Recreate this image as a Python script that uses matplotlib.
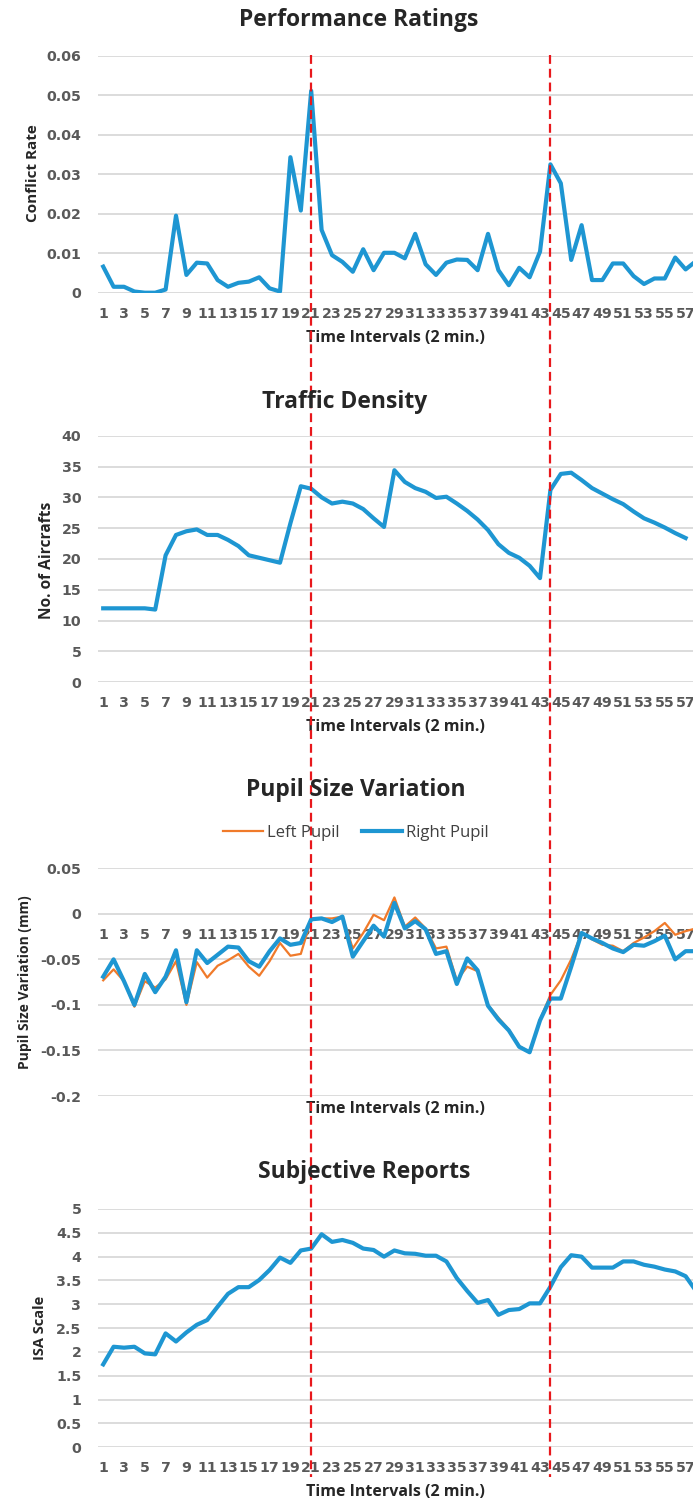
import numpy as np
import matplotlib
matplotlib.use("Agg")
import matplotlib.pyplot as plt
from matplotlib.transforms import blended_transform_factory
from matplotlib.lines import Line2D

plt.rcParams['font.family'] = ['Open Sans', 'DejaVu Sans']

# time intervals (2 min.)
conflict_rate = [0.0066, 0.0015, 0.0015, 0.0003, 0.0, 0.0, 0.0008, 0.0195, 0.0045, 0.0076,
                 0.0074, 0.0032, 0.0015, 0.0025, 0.0028, 0.0039, 0.0011, 0.0003, 0.0343, 0.0208,
                 0.0511, 0.0159, 0.0095, 0.0078, 0.0053, 0.0110, 0.0057, 0.0101, 0.0101, 0.0087,
                 0.0149, 0.0072, 0.0045, 0.0076, 0.0084, 0.0083, 0.0057, 0.0149, 0.0057, 0.0019,
                 0.0063, 0.0039, 0.0104, 0.0325, 0.0277, 0.0083, 0.0171, 0.0032, 0.0032, 0.0074,
                 0.0074, 0.0042, 0.0022, 0.0036, 0.0036, 0.0089, 0.0059, 0.0080]

aircrafts = [12.0, 12.0, 12.0, 12.0, 12.0, 11.8, 20.6, 23.9, 24.5, 24.8,
             23.9, 23.9, 23.1, 22.1, 20.6, 20.2, 19.8, 19.4, 25.8, 31.8,
             31.4, 30.0, 29.0, 29.3, 29.0, 28.1, 26.6, 25.2, 34.4, 32.5,
             31.5, 30.9, 29.9, 30.1, 29.0, 27.8, 26.4, 24.7, 22.4, 21.0,
             20.2, 18.9, 16.9, 31.2, 33.8, 34.0, 32.8, 31.5, 30.6, 29.7,
             28.9, 27.7, 26.6, 25.9, 25.1, 24.2, 23.4]

left_pupil = [-0.073, -0.061, -0.074, -0.102, -0.074, -0.081, -0.072, -0.052, -0.100, -0.053,
              -0.070, -0.057, -0.051, -0.044, -0.058, -0.068, -0.052, -0.032, -0.046, -0.044,
              -0.006, -0.005, -0.005, -0.003, -0.038, -0.021, -0.001, -0.007, 0.018, -0.014,
              -0.004, -0.016, -0.038, -0.036, -0.073, -0.058, -0.063, -0.100, -0.114, -0.127,
              -0.145, -0.152, -0.116, -0.089, -0.073, -0.050, -0.021, -0.028, -0.034, -0.035,
              -0.041, -0.032, -0.026, -0.019, -0.010, -0.023, -0.019, -0.016]

right_pupil = [-0.069, -0.050, -0.074, -0.100, -0.066, -0.086, -0.069, -0.040, -0.097, -0.040,
               -0.054, -0.045, -0.036, -0.037, -0.052, -0.058, -0.041, -0.027, -0.034, -0.032,
               -0.006, -0.005, -0.009, -0.003, -0.047, -0.030, -0.013, -0.025, 0.012, -0.016,
               -0.008, -0.017, -0.044, -0.041, -0.077, -0.049, -0.062, -0.101, -0.116, -0.128,
               -0.146, -0.152, -0.117, -0.093, -0.093, -0.058, -0.021, -0.027, -0.032, -0.038,
               -0.042, -0.034, -0.035, -0.030, -0.024, -0.050, -0.041, -0.041]

isa_scale = [1.74, 2.11, 2.09, 2.11, 1.97, 1.95, 2.39, 2.22, 2.41, 2.57,
             2.67, 2.95, 3.22, 3.36, 3.36, 3.51, 3.72, 3.98, 3.87, 4.13,
             4.17, 4.47, 4.31, 4.35, 4.29, 4.17, 4.14, 4.00, 4.13, 4.07,
             4.06, 4.02, 4.02, 3.90, 3.55, 3.28, 3.03, 3.09, 2.78, 2.88,
             2.90, 3.02, 3.02, 3.37, 3.78, 4.03, 4.00, 3.77, 3.77, 3.77,
             3.90, 3.90, 3.83, 3.79, 3.73, 3.69, 3.59, 3.28]

tick_labels = [str(i) for i in range(1, 58, 2)]
event_intervals = [21, 44]

W, H = 693, 1504
BLUE = '#1E96D2'
ORANGE = '#F07A2A'
TICK_COLOR = '#595959'
TICK_FONT = ['DejaVu Sans']

fig = plt.figure(figsize=(W / 100, H / 100), dpi=100)


def px_axes(top, bottom):
    # axes rectangle from pixel rows of the top and bottom gridlines
    return [98 / W, 1 - bottom / H, (W - 98) / W, (bottom - top) / H]


def style(ax, ylim, yticks, yfmt, label_gap):
    ax.set_xlim(0.5, 57.71)
    ax.set_ylim(*ylim)
    ax.set_yticks(yticks)
    ax.set_yticklabels([yfmt(v) for v in yticks])
    ax.set_xticks(range(1, 58, 2))
    ax.set_xticklabels(tick_labels)
    for s in ax.spines.values():
        s.set_visible(False)
    ax.grid(axis='y', color='#D9D9D9', linewidth=1.3)
    ax.set_axisbelow(True)
    ax.tick_params(length=0, labelsize=10.2, labelcolor=TICK_COLOR)
    ax.tick_params(axis='x', pad=10)
    ax.tick_params(axis='y', pad=12)
    for t in ax.get_xticklabels() + ax.get_yticklabels():
        t.set_fontweight('bold')
        t.set_family(TICK_FONT)
    ax.set_xlabel('Time Intervals (2 min.)', fontsize=11.5, fontweight='bold', color='#262626')
    ax.xaxis.set_label_coords(0.5, -label_gap)


def fmt_plain(v):
    s = ('%.2f' % v).rstrip('0').rstrip('.')
    return '0' if s in ('-0', '0') else s


# Performance Ratings
ax1 = fig.add_axes(px_axes(55.7, 292.7))
ax1.plot(range(1, len(conflict_rate) + 1), conflict_rate, color=BLUE, linewidth=3)
style(ax1, (0, 0.06), np.arange(0, 0.061, 0.01), fmt_plain, 37 / 237)

# Traffic Density
ax2 = fig.add_axes(px_axes(435.7, 682.3))
ax2.plot(range(1, len(aircrafts) + 1), aircrafts, color=BLUE, linewidth=3)
style(ax2, (0, 40), np.arange(0, 41, 5), lambda v: '%d' % v, 37 / 246.6)

# Pupil Size Variation (category labels sit at y = 0)
ax3 = fig.add_axes(px_axes(868.3, 1096))
ax3.spines['bottom'].set_position(('data', 0))
ax3.plot(range(1, len(left_pupil) + 1), left_pupil, color=ORANGE, linewidth=1.6)
ax3.plot(range(1, len(right_pupil) + 1), right_pupil, color=BLUE, linewidth=3)
style(ax3, (-0.2, 0.05), np.arange(-0.2, 0.051, 0.05), fmt_plain, 5 / 227.7)
ax3.xaxis.set_label_coords(0.5, -5 / 227.7, transform=ax3.transAxes)

# Subjective Reports
ax4 = fig.add_axes(px_axes(1209, 1447.3))
ax4.plot(range(1, len(isa_scale) + 1), isa_scale, color=BLUE, linewidth=3)
style(ax4, (0, 5), np.arange(0, 5.01, 0.5), lambda v: ('%.1f' % v).rstrip('0').rstrip('.'), 37 / 238.3)

# titles
title_kw = dict(fontsize=16.5, fontweight='bold', color='#262626', ha='center', va='center')
fig.text(359 / W, 1 - 20 / H, 'Performance Ratings', **title_kw)
fig.text(345 / W, 1 - 402 / H, 'Traffic Density', **title_kw)
fig.text(356 / W, 1 - 790 / H, 'Pupil Size Variation', **title_kw)
fig.text(364 / W, 1 - 1172 / H, 'Subjective Reports', **title_kw)

# y labels
yl_kw = dict(fontweight='bold', color='#262626', rotation=90, ha='center', va='center')
fig.text(33 / W, 1 - 173 / H, 'Conflict Rate', fontsize=11, **yl_kw)
fig.text(47 / W, 1 - 560 / H, 'No. of Aircrafts', fontsize=11.2, **yl_kw)
fig.text(25 / W, 1 - 982 / H, 'Pupil Size Variation (mm)', fontsize=10, **yl_kw)
fig.text(40 / W, 1 - 1328 / H, 'ISA Scale', fontsize=10.5, **yl_kw)

# legend for pupil panel
handles = [Line2D([], [], color=ORANGE, linewidth=1.6), Line2D([], [], color=BLUE, linewidth=3)]
fig.legend(handles, ['Left Pupil', 'Right Pupil'], loc='center', bbox_to_anchor=(356 / W, 1 - 833 / H),
           ncol=2, frameon=False, fontsize=12, handlelength=2.4, handletextpad=0.25, columnspacing=1.3,
           labelcolor='#404040')

# event markers spanning all panels
trans = blended_transform_factory(ax1.transData, fig.transFigure)
for ev in event_intervals:
    fig.add_artist(Line2D([ev, ev], [1 - 55 / H, 1 - 1477 / H], transform=trans, color='#E8181C',
                          linewidth=1.6, linestyle=(0, (4, 2.2))))

fig.savefig('out.png', dpi=100)
